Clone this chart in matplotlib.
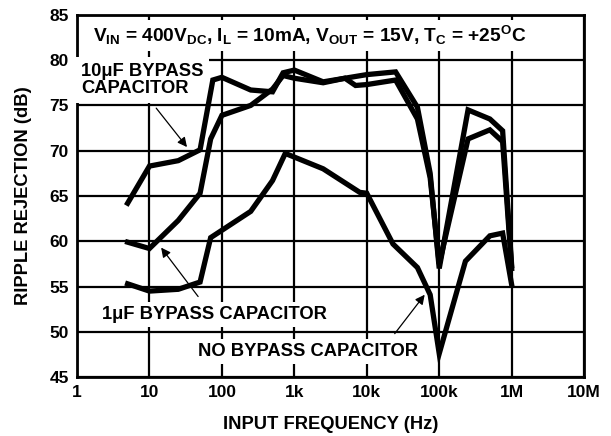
import numpy as np
import matplotlib
matplotlib.use('Agg')
import matplotlib.pyplot as plt

plt.rcParams['font.family'] = 'Liberation Sans'
plt.rcParams['font.weight'] = 'bold'
plt.rcParams['mathtext.fontset'] = 'custom'
plt.rcParams['mathtext.rm'] = 'Liberation Sans:bold'
plt.rcParams['mathtext.it'] = 'Liberation Sans:bold'
plt.rcParams['mathtext.bf'] = 'Liberation Sans:bold'

# ripple rejection (dB) vs input frequency (Hz)
freq_10u = [5, 10, 25, 50, 75, 100, 250, 500, 700, 1000, 2500, 5000, 10000,
            25000, 50000, 75000, 100000, 250000, 500000, 750000, 1000000]
rr_10u = [64.2, 68.3, 68.9, 70.1, 77.8, 78.1, 76.7, 76.5, 78.6, 78.9, 77.6,
          78.0, 78.4, 78.7, 74.8, 67.5, 57.0, 74.5, 73.5, 72.2, 57.3]

freq_1u = [5, 10, 25, 50, 70, 100, 250, 500, 700, 1000, 2500, 5000, 7000,
           10000, 25000, 50000, 75000, 100000, 250000, 500000, 750000, 1000000]
rr_1u = [59.9, 59.2, 62.3, 65.3, 71.3, 73.9, 75.0, 76.8, 78.3, 78.0, 77.5,
         78.0, 77.2, 77.3, 77.8, 73.5, 67.0, 57.5, 71.3, 72.3, 71.0, 57.0]

freq_none = [5, 10, 25, 50, 70, 250, 500, 750, 2500, 8000, 10000, 23000,
             50000, 75000, 100000, 230000, 500000, 750000, 1000000]
rr_none = [55.3, 54.5, 54.7, 55.5, 60.4, 63.3, 66.7, 69.7, 68.0, 65.4, 65.3,
           59.7, 57.1, 54.1, 47.6, 57.8, 60.6, 60.9, 55.2]

xticks = [1, 10, 100, 1e3, 1e4, 1e5, 1e6, 1e7]
xtick_labels = ['1', '10', '100', '1k', '10k', '100k', '1M', '10M']
yticks = [45, 50, 55, 60, 65, 70, 75, 80, 85]

fig = plt.figure(figsize=(6.11, 4.36), dpi=100)
ax = fig.add_axes([0.126, 0.135, 0.830, 0.831])

for f, r in [(freq_10u, rr_10u), (freq_1u, rr_1u), (freq_none, rr_none)]:
    ax.plot(f, r, color='black', lw=3.8, solid_joinstyle='miter', zorder=4)

ax.set_xscale('log')
ax.set_xlim(1, 1e7)
ax.set_ylim(45, 85)
ax.set_xticks(xticks)
ax.set_xticklabels(xtick_labels)
ax.minorticks_off()
ax.set_yticks(yticks)
ax.tick_params(length=0, labelsize=12.5, pad=6)
for lab in ax.get_xticklabels() + ax.get_yticklabels():
    lab.set_fontweight('bold')
ax.set_axisbelow(True)
ax.grid(True, color='black', lw=1.6)
for s in ax.spines.values():
    s.set_linewidth(2)

ax.set_xlabel('INPUT FREQUENCY (Hz)', fontsize=13.2, fontweight='bold', labelpad=11)
ax.set_ylabel('RIPPLE REJECTION (dB)', fontsize=13.2, fontweight='bold', labelpad=12)

box = dict(boxstyle='square,pad=0.22', facecolor='white', edgecolor='none')
ax.text(1620, 82.7,
        r'$\mathrm{V_{IN}}$ = 400$\mathrm{V_{DC}}$, $\mathrm{I_L}$ = 10mA, '
        r'$\mathrm{V_{OUT}}$ = 15V, $\mathrm{T_C}$ = +25$\mathrm{^O}$C',
        ha='center', va='center', fontsize=13.8, fontweight='bold', bbox=box, zorder=3)
ax.text(1.13, 79.7, '10\u03bcF BYPASS\nCAPACITOR', ha='left', va='top',
        fontsize=13.2, fontweight='bold', linespacing=1.05,
        bbox=dict(boxstyle='square,pad=0.3', facecolor='white', edgecolor='none'), zorder=3)
ax.text(78, 51.9, '1\u03bcF BYPASS CAPACITOR', ha='center', va='center',
        fontsize=13.2, fontweight='bold', bbox=box, zorder=3)
ax.text(1540, 47.8, 'NO BYPASS CAPACITOR', ha='center', va='center',
        fontsize=13.2, fontweight='bold', bbox=box, zorder=3)

arrow = dict(arrowstyle='-|>', color='black', lw=0.9, mutation_scale=14,
             shrinkA=0, shrinkB=0)
ax.annotate('', xy=(33, 70.4), xytext=(12.4, 74.7), arrowprops=arrow, zorder=5)
ax.annotate('', xy=(14.5, 59.3), xytext=(47, 53.9), arrowprops=arrow, zorder=5)
ax.annotate('', xy=(63000, 54.1), xytext=(24300, 49.8), arrowprops=arrow, zorder=5)

fig.savefig('out.png', dpi=100)
